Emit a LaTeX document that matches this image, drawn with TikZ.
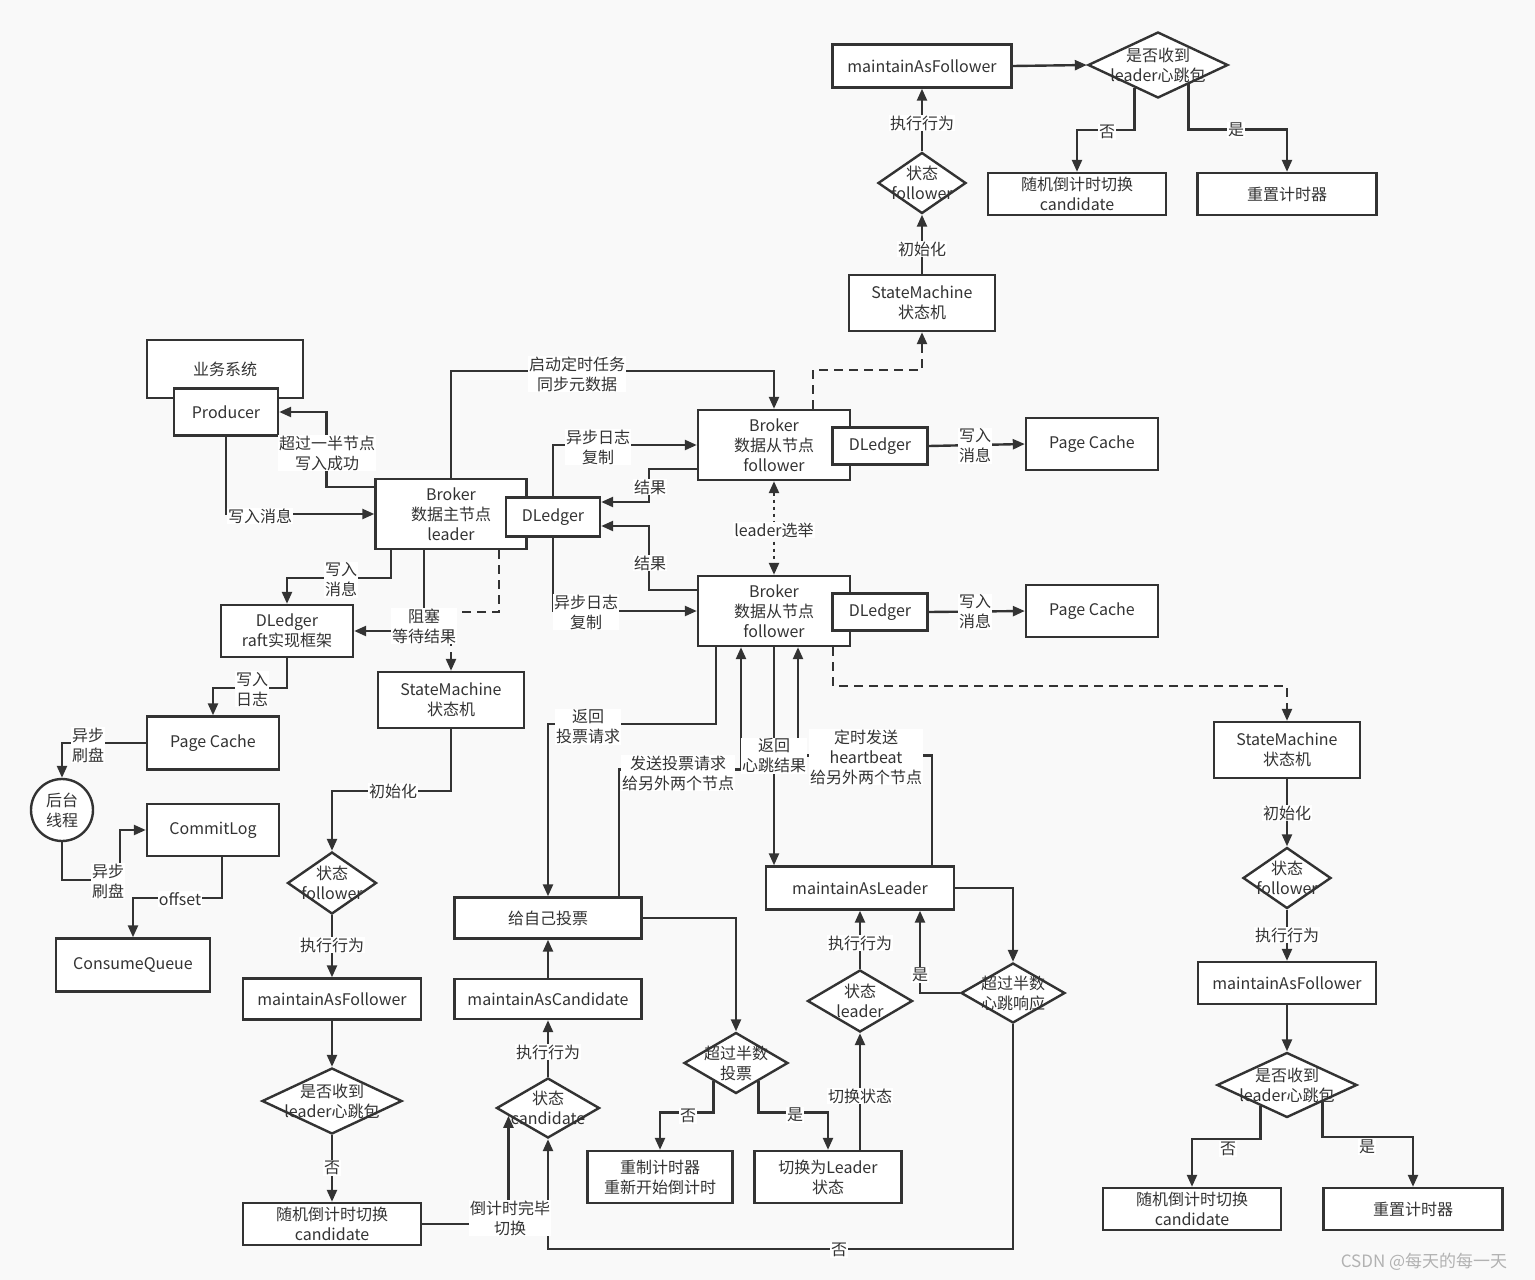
\documentclass[tikz,border=0pt]{standalone}
\usepackage{fontspec}
\setmainfont{Noto Sans CJK SC}
\usepackage{tikz}
\usetikzlibrary{arrows.meta,shapes.geometric,calc}
\definecolor{ink}{HTML}{333333}
\definecolor{paper}{HTML}{F9F9F9}
\newcommand{\twoln}[2]{\makebox[0pt]{#1}\\\makebox[0pt]{#2}}

\begin{document}
\begin{tikzpicture}[x=1pt,y=-1pt,font=\fontsize{16}{20}\selectfont,color=ink,line width=2.4pt,
 >={Triangle[length=12pt,width=10pt]},
 box/.style={draw,fill=white,align=center,inner sep=1pt},
 wh/.style 2 args={minimum width=#1pt,minimum height=#2pt},
 dia/.style={draw,fill=white,diamond,align=center,inner sep=0pt},
 lbl/.style={fill=white,align=center,inner sep=1pt},
 dsh/.style={->,dash pattern=on 9pt off 6pt}]
\path[use as bounding box,fill=paper] (0,0) rectangle (1535,1280);
% follower state machine, top
\node[box,wh={179}{43}] (maft) at (922,66) {maintainAsFollower};
\node[dia,wh={140}{66}] (qt) at (1158,65) {\twoln{是否收到}{leader心跳包}};
\node[box,wh={178}{42}] (rndt) at (1077,194) {随机倒计时切换\\candidate};
\node[box,wh={179}{42}] (rstt) at (1287,194) {重置计时器};
\node[dia,wh={88}{61}] (stt) at (922,183) {\twoln{状态}{follower}};
\node[box,wh={146}{56}] (smt) at (922,303) {StateMachine\\状态机};
% brokers
\node[box,wh={156}{58}] (biz) at (225,369) {业务系统};
\node[box,wh={104}{47}] (prod) at (226,412) {Producer};
\node[box,wh={151}{70}] (lead) at (451,514) {Broker\\数据主节点\\leader};
\node[box,wh={94}{39}] (dl) at (553,517) {DLedger};
\node[box,wh={152}{70}] (f1) at (774,445) {Broker\\数据从节点\\follower};
\node[box,wh={95}{37}] (dl1) at (880,446) {DLedger};
\node[box,wh={152}{70}] (f2) at (774,611) {Broker\\数据从节点\\follower};
\node[box,wh={95}{37}] (dl2) at (880,612) {DLedger};
\node[box,wh={132}{52}] (pc1) at (1092,444) {Page Cache};
\node[box,wh={132}{52}] (pc2) at (1092,611) {Page Cache};
% storage, left
\node[box,wh={132}{52}] (dlr) at (287,631) {DLedger\\raft实现框架};
\node[box,wh={146}{56}] (sml) at (451,700) {StateMachine\\状态机};
\node[box,wh={132}{53}] (pcl) at (213,743) {Page Cache};
\node[draw,fill=white,circle,minimum size=62pt,inner sep=0pt,align=center] (bg) at (62,810) {后台\\线程};
\node[box,wh={132}{52}] (cl) at (213,830) {CommitLog};
\node[box,wh={154}{53}] (cq) at (133,965) {ConsumeQueue};
\node[dia,wh={89}{62}] (stl) at (332,883) {\twoln{状态}{follower}};
\node[box,wh={178}{41}] (mafl) at (332,999) {maintainAsFollower};
\node[dia,wh={140}{66}] (ql) at (332,1101) {\twoln{是否收到}{leader心跳包}};
\node[box,wh={178}{42}] (rndl) at (332,1224) {随机倒计时切换\\candidate};
% candidate and leader
\node[box,wh={187}{41}] (vote) at (548,918) {给自己投票};
\node[box,wh={187}{40}] (mac) at (548,999) {maintainAsCandidate};
\node[dia,wh={103}{60}] (stc) at (548,1108) {\twoln{状态}{candidate}};
\node[dia,wh={104}{61}] (qv) at (736,1063) {\twoln{超过半数}{投票}};
\node[box,wh={145}{52}] (rstc) at (660,1177) {重制计时器\\重新开始倒计时};
\node[box,wh={147}{52}] (tol) at (828,1177) {切换为Leader\\状态};
\node[dia,wh={105}{62}] (stld) at (860,1001) {\twoln{状态}{leader}};
\node[box,wh={188}{43}] (mal) at (860,888) {maintainAsLeader};
\node[dia,wh={104}{60}] (qh) at (1013,993) {\twoln{超过半数}{心跳响应}};
% follower state machine, right
\node[box,wh={146}{56}] (smr) at (1287,750) {StateMachine\\状态机};
\node[dia,wh={88}{61}] (str) at (1287,878) {\twoln{状态}{follower}};
\node[box,wh={178}{42}] (mafr) at (1287,983) {maintainAsFollower};
\node[dia,wh={140}{65}] (qr) at (1287,1085) {\twoln{是否收到}{leader心跳包}};
\node[box,wh={178}{42}] (rndr) at (1192,1209) {随机倒计时切换\\candidate};
\node[box,wh={179}{42}] (rstr) at (1413,1209) {重置计时器};
% connectors
\draw[->] (smt.north) -- (stt.south);
\draw[->] (stt.north) -- (maft.south);
\draw[->] (maft.east) -- (qt.west);
\draw[->] ($(qt.west)!0.67!(qt.south)$) -- ++(0,42) -| (rndt.north);
\draw[->] ($(qt.east)!0.57!(qt.south)$) -- ++(0,45) -| (rstt.north);
\draw[->] (prod.south) |- (lead.west);
\draw[->] (lead.west |- 0,487) -- ++(-48,0) |- (prod.east);
\draw[->] (lead.north) -- ++(0,-107) -| (f1.north);
\draw[->] (dl.north) |- (f1.west);
\draw[->] (f1.west |- 0,469) -- ++(-48,0) |- (dl.east |- 0,502);
\draw[->] (f2.west |- 0,590) -- ++(-48,0) |- (dl.east |- 0,526);
\draw[->] (dl.south) |- (f2.west);
\draw[<->,dash pattern=on 3pt off 4pt] (f1.south) -- (f2.north);
\draw[dsh] (813,0 |- f1.north) -- ++(0,-39) -| (smt.south);
\draw[->] (dl1.east) -- (pc1.west);
\draw[->] (dl2.east) -- (pc2.west);
\draw[->] (391,0 |- lead.south) -- ++(0,28) -| (dlr.north);
\draw[->] (424,0 |- lead.south) |- (dlr.east);
\draw[dsh] (499,0 |- lead.south) -- ++(0,62) -| (sml.north);
\draw[->] (dlr.south) -- ++(0,30) -| (pcl.north);
\draw[->] (pcl.west) -| (bg.north);
\draw[->] (bg.south) -- ++(0,38) -- ++(58,0) |- (cl.west);
\draw[->] (222,0 |- cl.south) -- ++(0,41) -| (cq.north);
\draw[->] (sml.south) -- ++(0,62) -| (stl.north);
\draw[->] (stl.south) -- (mafl.north);
\draw[->] (mafl.south) -- (ql.north);
\draw[->] (ql.south) -- (rndl.north);
\draw[->] (rndl.east) -| ($(stc.west)!0.25!(stc.south)$);
\draw[->] (stc.north) -- (mac.south);
\draw[->] (mac.north) -- (vote.south);
\draw[->] (716,0 |- f2.south) -- ++(0,77) -| (vote.north);
\draw[->] (619,0 |- vote.north) -- ++(0,-127) -| (741,0 |- f2.south);
\draw[->] (f2.south) -- (774,0 |- mal.north);
\draw[->] (932,0 |- mal.north) -- ++(0,-110) -| (798,0 |- f2.south);
\draw[dsh] (833,0 |- f2.south) -- ++(0,39) -| (smr.north);
\draw[->] (vote.east) -| (qv.north);
\draw[->] ($(qv.west)!0.58!(qv.south)$) -- ++(0,31) -| (rstc.north);
\draw[->] ($(qv.east)!0.58!(qv.south)$) -- ++(0,31) -| (tol.north);
\draw[->] (860,0 |- tol.north) -- (stld.south);
\draw[->] (stld.north) -- (mal.south);
\draw[->] (mal.east) -| (qh.north);
\draw[->] (qh.west) -| (920,0 |- mal.south);
\draw[->] (qh.south) -- ++(0,225) -| (stc.south);
\draw[->] (smr.south) -- (str.north);
\draw[->] (str.south) -- (mafr.north);
\draw[->] (mafr.south) -- (qr.north);
\draw[->] ($(qr.west)!0.63!(qr.south)$) -- ++(0,33) -| (rndr.north);
\draw[->] ($(qr.east)!0.5!(qr.south)$) -- ++(0,35) -| (rstr.north);
% connector labels
\foreach \where/\what [count=\i] in {
 {922,249}/初始化, {922,123}/执行行为, {1107,132}/否, {1236,130}/是,
 {260,516}/写入消息, {327,453}/{超过一半节点\\写入成功}, {577,374}/{启动定时任务\\同步元数据},
 {598,447}/{异步日志\\复制}, {650,487}/结果, {650,563}/结果, {586,612}/{异步日志\\复制},
 {774,530}/leader选举, {975,446}/{写入\\消息}, {975,612}/{写入\\消息},
 {341,580}/{写入\\消息}, {424,626}/{阻塞\\等待结果}, {252,689}/{写入\\日志},
 {88,745}/{异步\\刷盘}, {108,881}/{异步\\刷盘}, {180,899}/offset,
 {393,791}/初始化, {332,945}/执行行为, {332,1168}/否, {510,1218}/{倒计时完毕\\切换},
 {548,1052}/执行行为, {588,727}/{返回\\投票请求}, {678,773}/{发送投票请求\\给另外两个节点},
 {774,756}/{返回\\心跳结果}, {866,757}/{定时发送\\heartbeat\\给另外两个节点},
 {688,1116}/否, {795,1115}/是, {860,1096}/切换状态, {860,943}/执行行为,
 {920,975}/是, {839,1250}/否, {1287,813}/初始化, {1287,935}/执行行为,
 {1228,1149}/否, {1367,1147}/是}
  \node[lbl] (t\i) at (\where) {\what};
\node[text=gray!60,font=\fontsize{17}{20}\selectfont] (wm) at (1424,1262) {CSDN @每天的每一天};
\end{tikzpicture}
\end{document}
